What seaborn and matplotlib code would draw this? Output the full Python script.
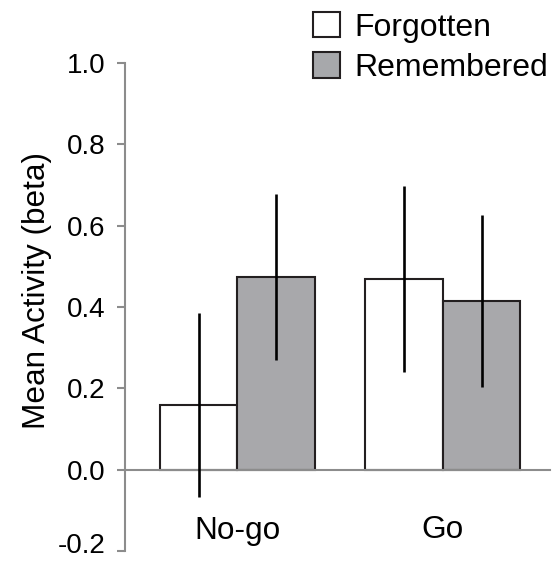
import numpy as np
import pandas as pd
import seaborn as sns
import matplotlib.pyplot as plt
import matplotlib.transforms as mtransforms
from matplotlib.patches import Patch

# values
conditions = ["No-go", "Go"]
groups = ["Forgotten", "Remembered"]
forgotten_mean = [0.160, 0.469]
remembered_mean = [0.474, 0.415]
forgotten_err = [0.226, 0.229]
remembered_err = [0.205, 0.211]
ytick_vals = [-0.2, 0.0, 0.2, 0.4, 0.6, 0.8, 1.0]

df = pd.DataFrame({
    "condition": conditions * 2,
    "memory": ["Forgotten"] * 2 + ["Remembered"] * 2,
    "beta": forgotten_mean + remembered_mean,
})
errs = {"Forgotten": forgotten_err, "Remembered": remembered_err}

sns.set_style("white")
plt.rcParams['font.family'] = ['Liberation Sans', 'DejaVu Sans']
plt.rcParams['axes.unicode_minus'] = False
plt.rcParams['text.color'] = 'black'
plt.rcParams['axes.labelcolor'] = 'black'
plt.rcParams['xtick.labelcolor'] = 'black'
plt.rcParams['ytick.labelcolor'] = 'black'

fs = 22.7
gray_axis = "#8c8c8c"
edge = "#231f20"
colors = {"Forgotten": "white", "Remembered": "#a7a8ab"}

fig = plt.figure(figsize=(5.56, 5.61), dpi=100)
ax = fig.add_axes([125 / 556, 1 - 551 / 561, 425 / 556, 488 / 561])

sns.barplot(data=df, x="condition", y="beta", hue="memory", order=conditions,
            hue_order=groups, palette=colors, edgecolor=edge, linewidth=1.5,
            width=0.754, gap=0, errorbar=None, legend=False, ax=ax)

# error bars drawn at the bar centres
for cont, g in zip(ax.containers, groups):
    xs = [p.get_x() + p.get_width() / 2 for p in cont]
    hs = [p.get_height() for p in cont]
    ax.errorbar(xs, hs, yerr=errs[g], fmt='none', ecolor='black',
                elinewidth=1.9, capsize=0, zorder=5)

ax.set_xlim(-0.547, 1.521)
ax.set_ylim(-0.2, 1.0)
ax.set_yticks(ytick_vals)
ax.set_yticklabels([f"{v:.1f}" for v in ytick_vals])

sns.despine(ax=ax)
ax.spines['bottom'].set_position(('data', 0))
for s in ['left', 'bottom']:
    ax.spines[s].set_color(gray_axis)
    ax.spines[s].set_linewidth(1.5)

ax.set_xticks([0, 1])
ax.set_xticks([0.49, 1.51], minor=True)
ax.tick_params(axis='x', which='major', length=0, pad=33, labelsize=fs)
ax.tick_params(axis='x', which='minor', length=5, width=1.5, color=gray_axis,
               direction='out')
ax.tick_params(axis='y', length=6, width=1.5, color=gray_axis, pad=8,
               labelsize=20, left=True)
ax.set_xlabel("")
ax.set_ylabel("Mean Activity (beta)", fontsize=fs)
ax.yaxis.set_label_coords(-0.172, 0.533)

# nudge the lowest tick label up so it stays inside the figure
lowest = ax.get_yticklabels()[0]
lowest.set_transform(lowest.get_transform() +
                     mtransforms.ScaledTranslation(0, 5.5 / 72, fig.dpi_scale_trans))

handles = [Patch(facecolor=colors[g], edgecolor=edge, linewidth=1.5) for g in groups]
ax.legend(handles, groups, loc='upper left', bbox_to_anchor=(313 / 556, 1 - 12 / 561),
          bbox_transform=fig.transFigure, frameon=False, borderpad=0,
          borderaxespad=0, handlelength=0.85, handleheight=0.85,
          handletextpad=0.45, labelspacing=0.3, fontsize=23)

fig.savefig("out.png", dpi=100)
